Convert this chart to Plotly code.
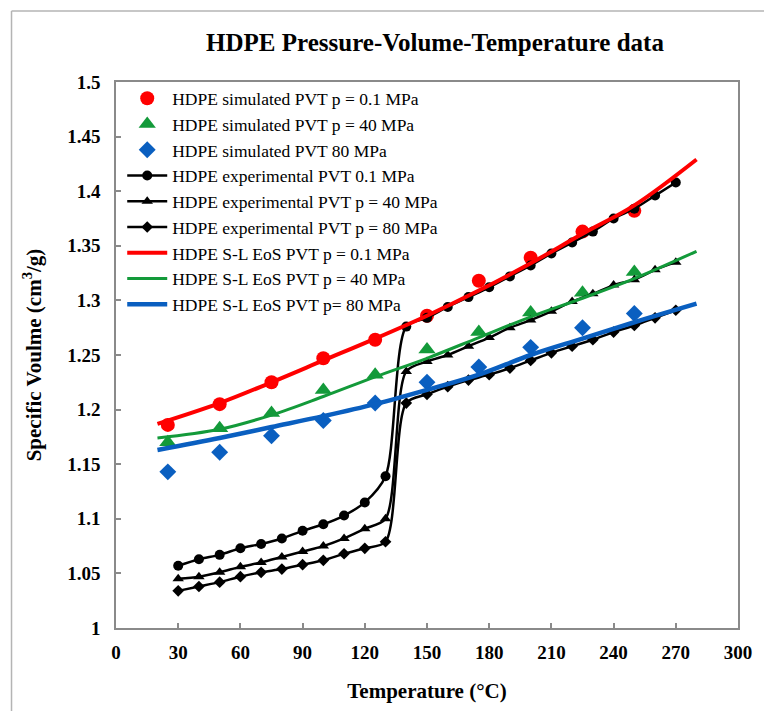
import plotly.graph_objects as go

# ---- Data -------------------------------------------------------------
# Simulated PVT points (temperature in °C, specific volume in cm³/g)
sim_T = [25, 50, 75, 100, 125, 150, 175, 200, 225, 250]
sim_v_01 = [1.186, 1.205, 1.225, 1.247, 1.264, 1.286, 1.318, 1.339, 1.363, 1.382]
sim_v_40 = [1.170, 1.183, 1.197, 1.218, 1.232, 1.255, 1.271, 1.289, 1.307, 1.326]
sim_v_80 = [1.143, 1.161, 1.176, 1.190, 1.206, 1.225, 1.239, 1.257, 1.275, 1.288]

# Experimental PVT measurements
exp_T = [30, 40, 50, 60, 70, 80, 90, 100, 110, 120, 130,
         140, 150, 160, 170, 180, 190, 200, 210, 220, 230, 240, 250, 260, 270]
exp_v_01 = [1.057, 1.063, 1.067, 1.073, 1.077, 1.082, 1.089, 1.095, 1.103, 1.115, 1.139,
            1.276, 1.284, 1.294, 1.303, 1.312, 1.322, 1.332, 1.343, 1.353, 1.363, 1.375,
            1.384, 1.396, 1.408]
exp_v_40 = [1.045, 1.047, 1.051, 1.056, 1.060, 1.065, 1.070, 1.075, 1.082, 1.091, 1.100,
            1.235, 1.244, 1.250, 1.258, 1.266, 1.275, 1.282, 1.290, 1.299, 1.306, 1.314,
            1.319, 1.328, 1.335]
exp_v_80 = [1.034, 1.038, 1.042, 1.047, 1.051, 1.054, 1.058, 1.062, 1.068, 1.073, 1.079,
            1.206, 1.214, 1.221, 1.227, 1.232, 1.238, 1.245, 1.252, 1.258, 1.264, 1.271,
            1.277, 1.284, 1.291]

# Sanchez-Lacombe equation-of-state curves
eos_T = [20, 50, 75, 100, 125, 150, 175, 200, 225, 250, 280]
eos_v_01 = [1.187, 1.206, 1.225, 1.245, 1.265, 1.286, 1.309, 1.334, 1.361, 1.387, 1.429]
eos_v_40 = [1.174, 1.182, 1.195, 1.212, 1.230, 1.247, 1.266, 1.285, 1.302, 1.320, 1.345]
eos_v_80 = [1.163, 1.174, 1.184, 1.194, 1.205, 1.218, 1.232, 1.250, 1.265, 1.280, 1.297]

x_ticks = [0, 30, 60, 90, 120, 150, 180, 210, 240, 270, 300]
y_ticks = [1, 1.05, 1.1, 1.15, 1.2, 1.25, 1.3, 1.35, 1.4, 1.45, 1.5]
y_tick_text = ["1", "1.05", "1.1", "1.15", "1.2", "1.25", "1.3", "1.35", "1.4", "1.45", "1.5"]

RED = "#ff0000"
GREEN = "#139a3a"
BLUE = "#0a5fc0"
FONT = "Liberation Serif"

fig = go.Figure()

# Simulated points
fig.add_trace(go.Scatter(x=sim_T, y=sim_v_01, mode="markers",
                         name="HDPE simulated PVT p = 0.1 MPa",
                         marker=dict(symbol="circle", size=14, color=RED)))
fig.add_trace(go.Scatter(x=sim_T, y=sim_v_40, mode="markers",
                         name="HDPE simulated PVT p = 40 MPa",
                         marker=dict(symbol="triangle-up", size=15, color=GREEN)))
fig.add_trace(go.Scatter(x=sim_T, y=sim_v_80, mode="markers",
                         name="HDPE simulated PVT 80 MPa",
                         marker=dict(symbol="diamond", size=13, color=BLUE)))

# Experimental curves (smoothed lines with markers)
line_exp = dict(color="black", width=2.5, shape="spline", smoothing=0.8)
fig.add_trace(go.Scatter(x=exp_T, y=exp_v_01, mode="lines+markers",
                         name="HDPE experimental PVT 0.1 MPa", line=line_exp,
                         marker=dict(symbol="circle", size=10, color="black")))
fig.add_trace(go.Scatter(x=exp_T, y=exp_v_40, mode="lines+markers",
                         name="HDPE experimental PVT p = 40 MPa", line=line_exp,
                         marker=dict(symbol="triangle-up", size=10, color="black")))
fig.add_trace(go.Scatter(x=exp_T, y=exp_v_80, mode="lines+markers",
                         name="HDPE experimental PVT p = 80 MPa", line=line_exp,
                         marker=dict(symbol="diamond", size=9, color="black")))

# S-L EoS curves
fig.add_trace(go.Scatter(x=eos_T, y=eos_v_01, mode="lines",
                         name="HDPE S-L EoS PVT p = 0.1 MPa",
                         line=dict(color=RED, width=4, shape="spline")))
fig.add_trace(go.Scatter(x=eos_T, y=eos_v_40, mode="lines",
                         name="HDPE S-L EoS PVT p = 40 MPa",
                         line=dict(color=GREEN, width=3, shape="spline")))
fig.add_trace(go.Scatter(x=eos_T, y=eos_v_80, mode="lines",
                         name="HDPE S-L EoS PVT p= 80 MPa",
                         line=dict(color=BLUE, width=4.5, shape="spline")))

W, H = 764, 711
L, R, T, B = 116, 17, 82, 83
pw, ph = W - L - R, H - T - B

axis_common = dict(
    showline=True, mirror=True, linecolor="#8a8a8a", linewidth=1.5,
    ticks="inside", ticklen=5, tickcolor="#8a8a8a", tickwidth=1.5,
    showgrid=False, zeroline=False,
    tickfont=dict(family=FONT, size=19, color="black", weight="bold"),
)

fig.update_layout(
    width=W, height=H,
    margin=dict(l=L, r=R, t=T, b=B, pad=0),
    paper_bgcolor="white", plot_bgcolor="white",
    font=dict(family=FONT, color="black"),
    title=dict(text="<b>HDPE Pressure-Volume-Temperature data</b>",
               font=dict(family=FONT, size=25, color="black"),
               x=435 / W, xanchor="center", y=1 - 42 / H, yanchor="middle",
               xref="container", yref="container"),
    xaxis=dict(range=[0, 300], tickvals=x_ticks, ticklabelstandoff=6,
               title=dict(text="Temperature (°C)",
                          font=dict(family=FONT, size=21, weight="bold"),
                          standoff=22),
               **axis_common),
    yaxis=dict(range=[1, 1.5], tickvals=y_ticks, ticktext=y_tick_text,
               ticklabelstandoff=10,
               title=dict(text="Specific Voulme (cm<sup>3</sup>/g)",
                          font=dict(family=FONT, size=21, weight="bold"),
                          standoff=20),
               **axis_common),
    legend=dict(x=0.01, y=1.003, xanchor="left", yanchor="top",
                bgcolor="rgba(0,0,0,0)", borderwidth=0,
                font=dict(family=FONT, size=17.5, color="black"),
                tracegroupgap=0, itemwidth=40),
    showlegend=True,
)

# Outer chart frame (only its left and top edges fall inside the page)
frame = dict(color="#b4b4b4", width=1.5)
frame_x = (10 - L) / pw
frame_top = (H - 11 - B) / ph
fig.add_shape(type="line", xref="paper", yref="paper",
              x0=frame_x, x1=frame_x, y0=-B / ph - 0.05, y1=frame_top,
              line=frame, layer="below")
fig.add_shape(type="line", xref="paper", yref="paper",
              x0=frame_x, x1=(W + 10 - L) / pw, y0=frame_top, y1=frame_top,
              line=frame, layer="below")

fig.write_html("out.html", config={"displayModeBar": False})
